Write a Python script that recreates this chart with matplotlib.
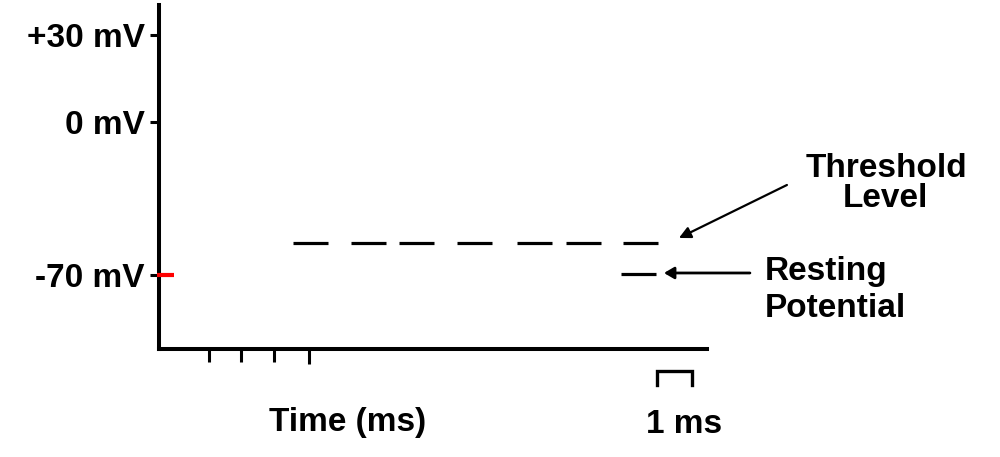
import matplotlib
matplotlib.use("Agg")
import matplotlib.pyplot as plt

plt.rcParams['font.family'] = ['Liberation Sans', 'DejaVu Sans']

# ---- data (schematic units: x in ms, y in schematic mV) ----
y_tick_pos = [30, 0, -52.8]
y_tick_labels = ['+30 mV', '0 mV', '-70 mV']
x_tick_pos = [1.48, 2.45, 3.43]
x_tick_long = [4.49]
threshold_level = -41.7
threshold_dash_starts = [4.00, 5.73, 7.16, 8.90, 10.69, 12.15, 13.85]
dash_len = 1.04
resting_level = -52.3
resting_segment = [13.79, 14.84]
red_mark_x = [-0.06, 0.45]
red_mark_y = -52.8
scale_bar_x = [14.87, 15.91]
scale_bar_y = [-85.9, -90.7]

fig = plt.figure(figsize=(10, 4.57), dpi=100)
ax = fig.add_axes([0.159, 108/457, 0.548, 344/457])
ax.set_xlim(0, 16.36)
ax.set_ylim(-78.28, 40.34)

for s in ['top', 'right']:
    ax.spines[s].set_visible(False)
for s in ['left', 'bottom']:
    ax.spines[s].set_linewidth(2.9)
    ax.spines[s].set_color('black')

fs = 24
ax.set_yticks(y_tick_pos)
ax.set_yticklabels(y_tick_labels, fontsize=fs, fontweight='bold')
ax.tick_params(axis='y', direction='out', length=6.5, width=2.2, pad=3.6)

ax.set_xticks(x_tick_pos)
ax.set_xticklabels([])
ax.set_xticks(x_tick_long, minor=True)
ax.tick_params(axis='x', which='major', direction='out', length=9.4, width=2.2)
ax.tick_params(axis='x', which='minor', direction='out', length=11.0, width=2.2)

# red resting marker on the y axis
ax.plot(red_mark_x, [red_mark_y, red_mark_y], color='#ff0000', lw=3.0,
        solid_capstyle='butt', clip_on=False, zorder=5)

# threshold dashed line
for xs in threshold_dash_starts:
    ax.plot([xs, xs + dash_len], [threshold_level, threshold_level],
            color='black', lw=2.3, solid_capstyle='butt')

# resting potential segment
ax.plot(resting_segment, [resting_level, resting_level], color='black', lw=2.3,
        solid_capstyle='butt')

# 1 ms scale bar
ax.plot([scale_bar_x[0], scale_bar_x[0], scale_bar_x[1], scale_bar_x[1]],
        [scale_bar_y[1], scale_bar_y[0], scale_bar_y[0], scale_bar_y[1]],
        color='black', lw=2.4, clip_on=False, solid_joinstyle='miter')

def px(xp, yp):
    return ((xp - 159) / 33.5, (122 - yp) / 2.9)

# arrows
ax.annotate('', xy=px(679, 238), xytext=px(787, 185), annotation_clip=False,
            arrowprops=dict(arrowstyle='-|>,head_length=0.7,head_width=0.35',
                            color='black', lw=1.6, shrinkA=0, shrinkB=0))
ax.annotate('', xy=px(664, 273), xytext=px(750, 273), annotation_clip=False,
            arrowprops=dict(arrowstyle='-|>,head_length=0.6,head_width=0.35',
                            color='black', lw=2.0, shrinkA=0, shrinkB=0))

# labels
tkw = dict(fontsize=fs, fontweight='bold', annotation_clip=False)
ax.annotate('Threshold', xy=px(887, 177), ha='center', va='baseline', **tkw)
ax.annotate('Level', xy=px(886, 207), ha='center', va='baseline', **tkw)
ax.annotate('Resting', xy=px(765, 280), ha='left', va='baseline', **tkw)
ax.annotate('Potential', xy=px(765, 317), ha='left', va='baseline', **tkw)
ax.annotate('Time (ms)', xy=px(348, 431), ha='center', va='baseline', **tkw)
ax.annotate('1 ms', xy=px(684, 433), ha='center', va='baseline', **tkw)

fig.savefig('out.png', dpi=100)
